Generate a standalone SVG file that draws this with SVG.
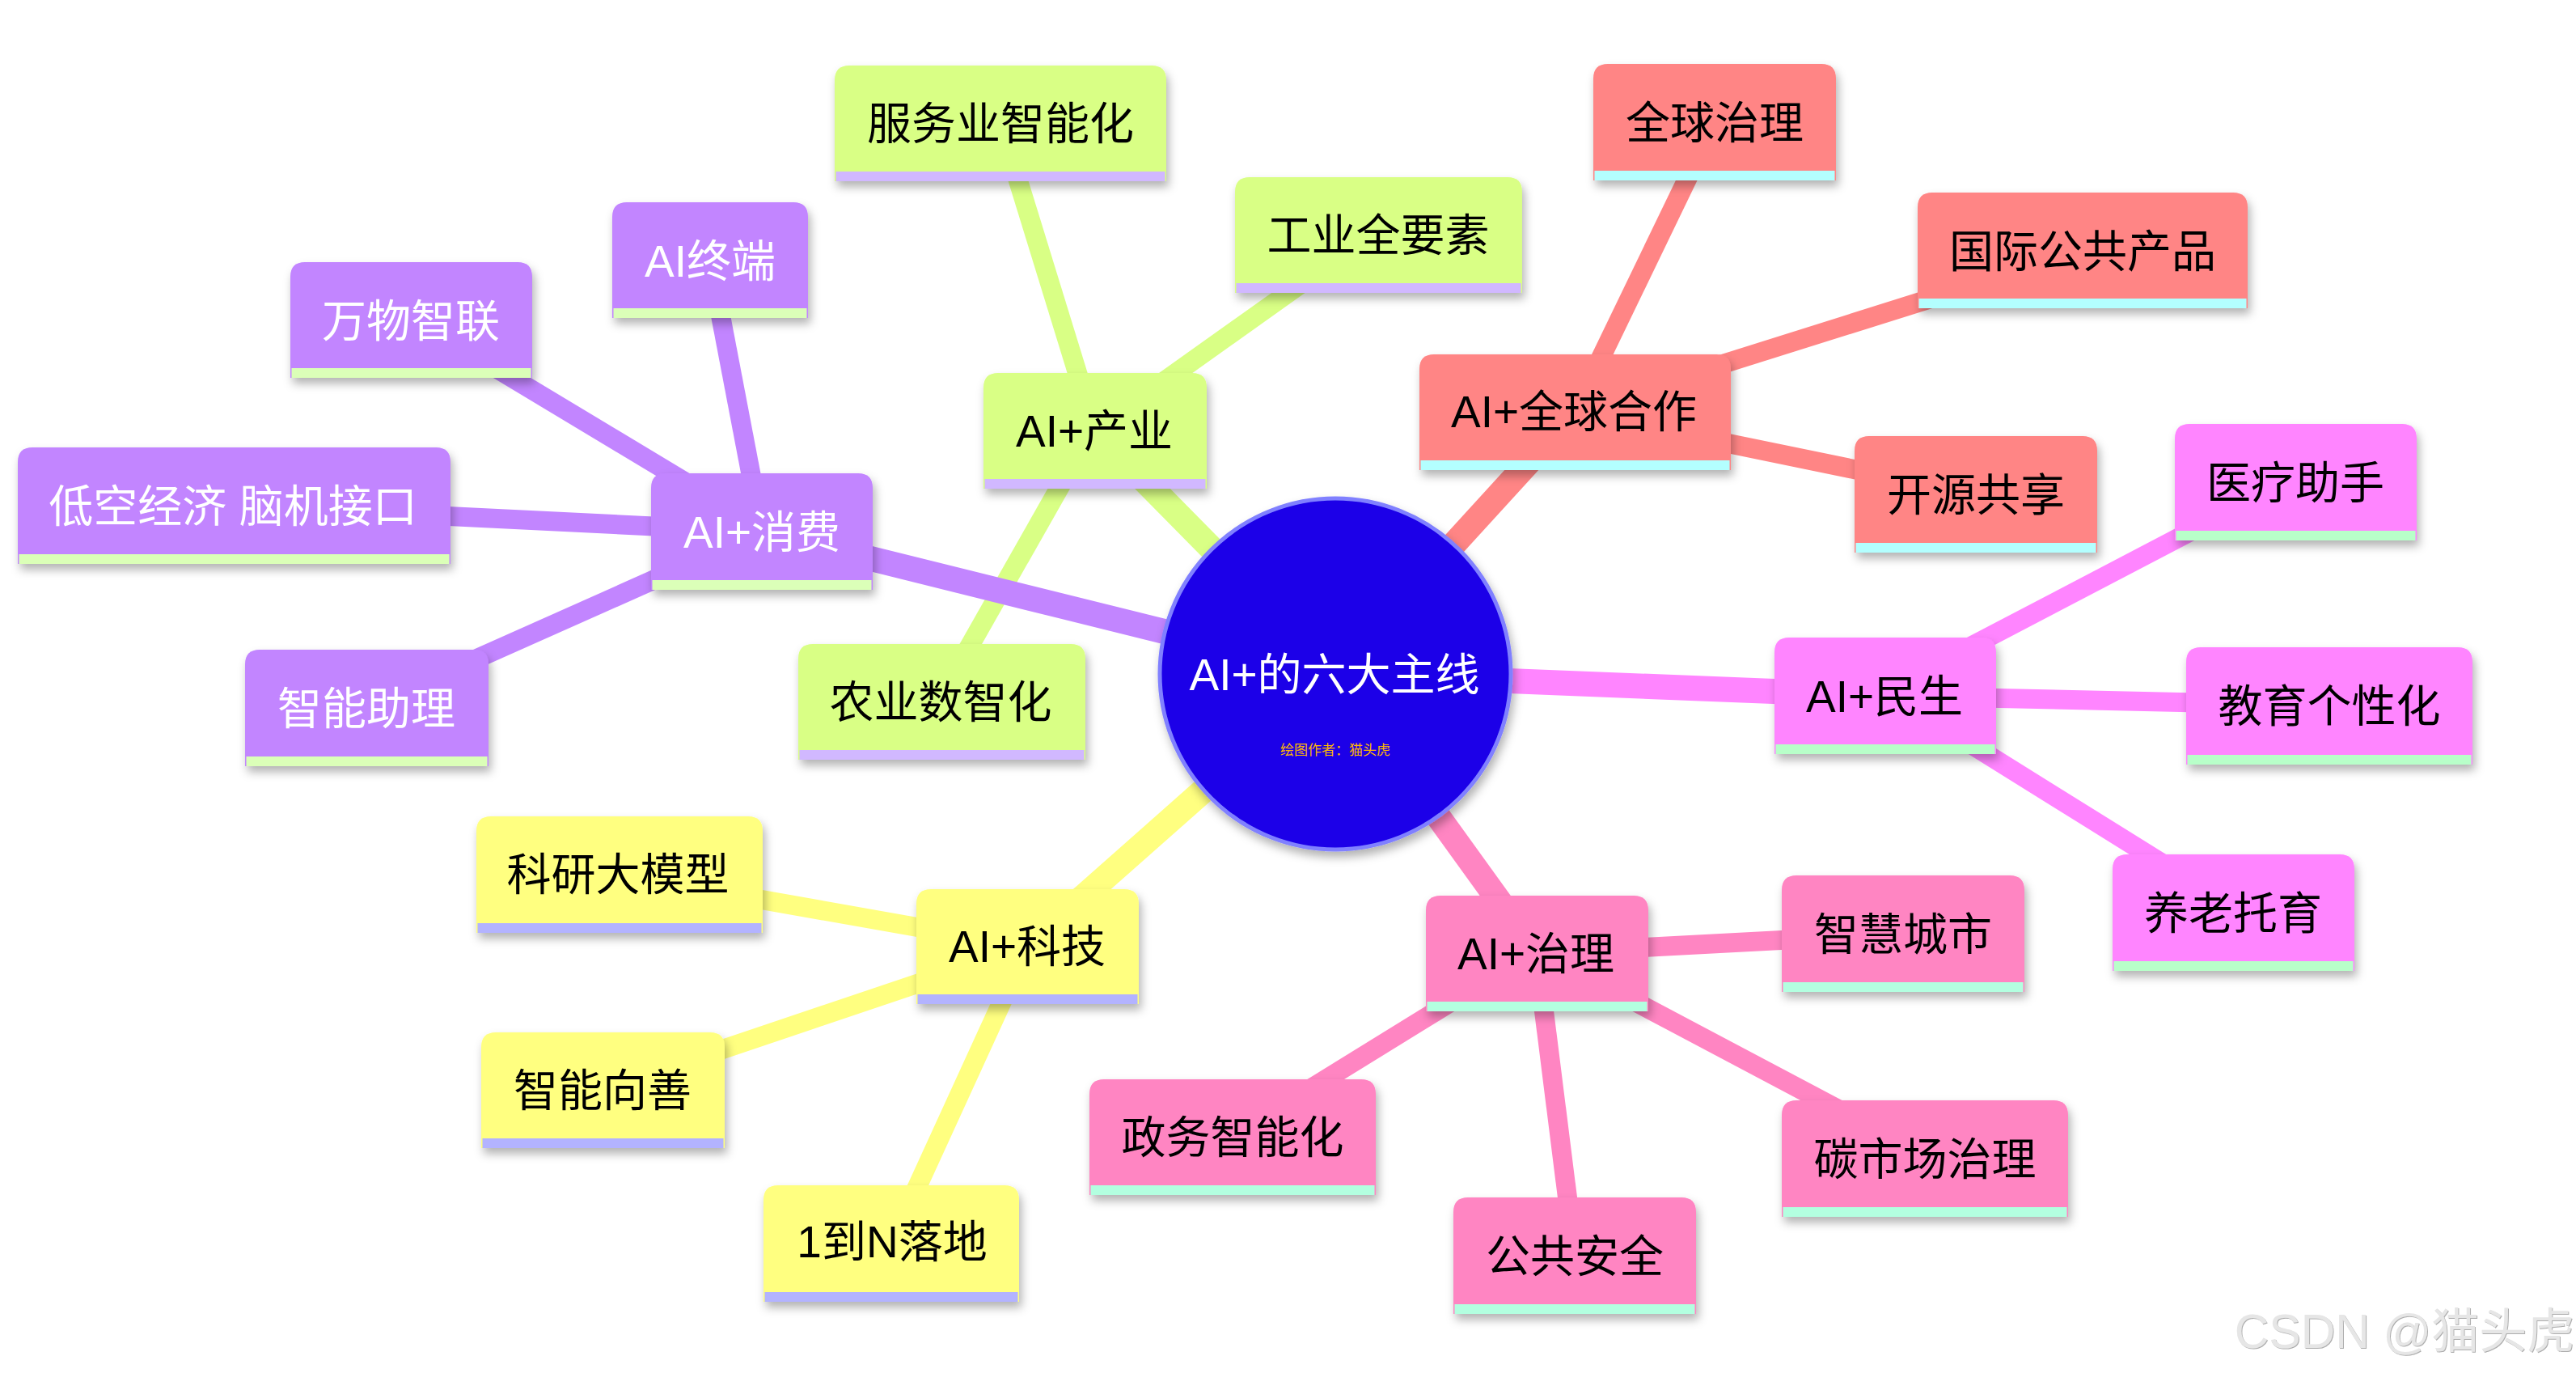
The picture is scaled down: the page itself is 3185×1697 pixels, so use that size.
<svg xmlns="http://www.w3.org/2000/svg" width="3185" height="1697" viewBox="0 0 3185 1697">
<style>
text{font-family:"Liberation Sans","Noto Sans CJK SC",sans-serif;font-size:55px;text-anchor:middle;fill:#000}
.w text,text.w{fill:#fff}
.b{filter:url(#sh)}
line{fill:none;stroke-width:24}
.m{stroke-width:31}
.pu{stroke:#c285ff}.gr{stroke:#d9ff85}.sa{stroke:#ff8585}.ma{stroke:#ff85ff}.pi{stroke:#ff85c2}.ye{stroke:#ffff80}
.fpu{fill:#c285ff}.fgr{fill:#d9ff85}.fsa{fill:#ff8585}.fma{fill:#ff85ff}.fpi{fill:#ff85c2}.fye{fill:#ffff80}
.bpu{fill:#dbffb8}.bgr{fill:#d1b8ff}.bsa{fill:#b3ffff}.bma{fill:#b8ffc9}.bpi{fill:#b3ffe0}.bye{fill:#b3b3ff}
</style>
<defs>
<filter id="sh" x="-15%" y="-15%" width="130%" height="135%"><feDropShadow dx="3" dy="7" stdDeviation="6" flood-color="#000" flood-opacity="0.3"/></filter>
<filter id="wm" x="-5%" y="-10%" width="110%" height="120%"><feDropShadow dx="1" dy="1" stdDeviation="0.6" flood-color="#999" flood-opacity="0.8"/></filter>
</defs>
<rect width="3185" height="1697" fill="#fff"/>
<g id="connectors">
<line class="gr m" x1="1354" y1="532" x2="1651" y2="833"/>
<line class="sa m" x1="1947" y1="509" x2="1651" y2="833"/>
<line class="ma m" x1="2331" y1="860" x2="1651" y2="833"/>
<line class="pi m" x1="1900" y1="1178" x2="1651" y2="833"/>
<line class="ye m" x1="1270" y1="1170" x2="1651" y2="833"/>
<line class="pu" x1="942" y1="657" x2="878" y2="322"/>
<line class="pu" x1="949" y1="657" x2="515" y2="396"/>
<line class="pu" x1="942" y1="657" x2="290" y2="625"/>
<line class="pu" x1="942" y1="657" x2="453" y2="875"/>
<line class="gr" x1="1354" y1="532" x2="1237" y2="152"/>
<line class="gr" x1="1354" y1="532" x2="1694" y2="290"/>
<line class="gr" x1="1350" y1="532" x2="1160" y2="867"/>
<line class="sa" x1="1947" y1="509" x2="2120" y2="151"/>
<line class="sa" x1="1942" y1="509" x2="2575" y2="310"/>
<line class="sa" x1="1947" y1="509" x2="2443" y2="611"/>
<line class="ma" x1="2320" y1="860" x2="2825" y2="596"/>
<line class="ma" x1="2331" y1="860" x2="2880" y2="872"/>
<line class="ma" x1="2341" y1="860" x2="2771" y2="1128"/>
<line class="pi" x1="1900" y1="1178" x2="2353" y2="1154"/>
<line class="pi" x1="1908" y1="1178" x2="2388" y2="1432"/>
<line class="pi" x1="1892" y1="1178" x2="1524" y2="1405"/>
<line class="pi" x1="1900" y1="1178" x2="1947" y2="1552"/>
<line class="ye" x1="1270" y1="1170" x2="766" y2="1081"/>
<line class="ye" x1="1270" y1="1170" x2="745" y2="1347"/>
<line class="ye" x1="1270" y1="1170" x2="1102" y2="1537"/>
<line class="pu m" x1="942" y1="657" x2="1651" y2="833"/>
</g>
<g id="root">
<circle cx="1651" cy="833" r="217" fill="#1a00e8" stroke="#8080ff" stroke-width="5" filter="url(#sh)"/>
<text class="w" x="1650" y="853">AI+的六大主线</text>
<text x="1651" y="933" style="font-size:17px;fill:#ffb800">绘图作者：猫头虎</text>
</g>
<g id="n-consume" class="w"><g class="b"><path class="fpu" d="M805 729V603Q805 585 823 585H1061Q1079 585 1079 603V729Z"/><rect class="bpu" x="806.5" y="717" width="271" height="12"/></g><text x="942" y="677">AI+消费</text></g>
<g id="n-terminal" class="w"><g class="b"><path class="fpu" d="M757 393V268Q757 250 775 250H981Q999 250 999 268V393Z"/><rect class="bpu" x="758.500" y="381" width="239" height="12"/></g><text x="878" y="342">AI终端</text></g>
<g id="n-iot" class="w"><g class="b"><path class="fpu" d="M359 467V342Q359 324 377 324H640Q658 324 658 342V467Z"/><rect class="bpu" x="360.500" y="455" width="296" height="12"/></g><text x="508" y="416">万物智联</text></g>
<g id="n-lowalt" class="w"><g class="b"><path class="fpu" d="M22 697V571Q22 553 40 553H539Q557 553 557 571V697Z"/><rect class="bpu" x="23.500" y="685" width="532" height="12"/></g><text x="288" y="645">低空经济 脑机接口</text></g>
<g id="n-assist" class="w"><g class="b"><path class="fpu" d="M303 947V821Q303 803 321 803H586Q604 803 604 821V947Z"/><rect class="bpu" x="304.500" y="935" width="298" height="12"/></g><text x="453" y="895">智能助理</text></g>
<g id="n-industry"><g class="b"><path class="fgr" d="M1216 604V479Q1216 461 1234 461H1474Q1492 461 1492 479V604Z"/><rect class="bgr" x="1217.500" y="592" width="273" height="12"/></g><text x="1353" y="552">AI+产业</text></g>
<g id="n-service"><g class="b"><path class="fgr" d="M1032 224V99Q1032 81 1050 81H1424Q1442 81 1442 99V224Z"/><rect class="bgr" x="1033.500" y="212" width="407" height="12"/></g><text x="1237" y="172">服务业智能化</text></g>
<g id="n-factor"><g class="b"><path class="fgr" d="M1527 362V237Q1527 219 1545 219H1864Q1882 219 1882 237V362Z"/><rect class="bgr" x="1528.500" y="350" width="352" height="12"/></g><text x="1704" y="310">工业全要素</text></g>
<g id="n-agri"><g class="b"><path class="fgr" d="M987 939V814Q987 796 1005 796H1324Q1342 796 1342 814V939Z"/><rect class="bgr" x="988.500" y="927" width="352" height="12"/></g><text x="1163" y="887">农业数智化</text></g>
<g id="n-global"><g class="b"><path class="fsa" d="M1755 581V456Q1755 438 1773 438H2122Q2140 438 2140 456V581Z"/><rect class="bsa" x="1756.500" y="569" width="382" height="12"/></g><text x="1946" y="528">AI+全球合作</text></g>
<g id="n-govern"><g class="b"><path class="fsa" d="M1970 223V97Q1970 79 1988 79H2252Q2270 79 2270 97V223Z"/><rect class="bsa" x="1971.500" y="211" width="297" height="12"/></g><text x="2120" y="171">全球治理</text></g>
<g id="n-public"><g class="b"><path class="fsa" d="M2371 381V256Q2371 238 2389 238H2761Q2779 238 2779 256V381Z"/><rect class="bsa" x="2372.500" y="369" width="405" height="12"/></g><text x="2575" y="330">国际公共产品</text></g>
<g id="n-open"><g class="b"><path class="fsa" d="M2293 683V557Q2293 539 2311 539H2575Q2593 539 2593 557V683Z"/><rect class="bsa" x="2294.500" y="671" width="297" height="12"/></g><text x="2443" y="631">开源共享</text></g>
<g id="n-life"><g class="b"><path class="fma" d="M2194 932V806Q2194 788 2212 788H2450Q2468 788 2468 806V932Z"/><rect class="bma" x="2195.500" y="920" width="271" height="12"/></g><text x="2330" y="880">AI+民生</text></g>
<g id="n-med"><g class="b"><path class="fma" d="M2689 668V542Q2689 524 2707 524H2970Q2988 524 2988 542V668Z"/><rect class="bma" x="2690.500" y="656" width="296" height="12"/></g><text x="2838" y="616">医疗助手</text></g>
<g id="n-edu"><g class="b"><path class="fma" d="M2703 945V818Q2703 800 2721 800H3039Q3057 800 3057 818V945Z"/><rect class="bma" x="2704.500" y="933" width="351" height="12"/></g><text x="2880" y="892">教育个性化</text></g>
<g id="n-care"><g class="b"><path class="fma" d="M2612 1200V1074Q2612 1056 2630 1056H2893Q2911 1056 2911 1074V1200Z"/><rect class="bma" x="2613.500" y="1188" width="296" height="12"/></g><text x="2761" y="1148">养老托育</text></g>
<g id="n-gov"><g class="b"><path class="fpi" d="M1763 1250V1125Q1763 1107 1781 1107H2020Q2038 1107 2038 1125V1250Z"/><rect class="bpi" x="1764.500" y="1238" width="272" height="12"/></g><text x="1899" y="1198">AI+治理</text></g>
<g id="n-city"><g class="b"><path class="fpi" d="M2203 1226V1100Q2203 1082 2221 1082H2485Q2503 1082 2503 1100V1226Z"/><rect class="bpi" x="2204.500" y="1214" width="297" height="12"/></g><text x="2353" y="1174">智慧城市</text></g>
<g id="n-carbon"><g class="b"><path class="fpi" d="M2203 1504V1378Q2203 1360 2221 1360H2539Q2557 1360 2557 1378V1504Z"/><rect class="bpi" x="2204.500" y="1492" width="351" height="12"/></g><text x="2380" y="1452">碳市场治理</text></g>
<g id="n-egov"><g class="b"><path class="fpi" d="M1347 1477V1352Q1347 1334 1365 1334H1683Q1701 1334 1701 1352V1477Z"/><rect class="bpi" x="1348.500" y="1465" width="351" height="12"/></g><text x="1524" y="1425">政务智能化</text></g>
<g id="n-safety"><g class="b"><path class="fpi" d="M1797 1624V1498Q1797 1480 1815 1480H2079Q2097 1480 2097 1498V1624Z"/><rect class="bpi" x="1798.500" y="1612" width="297" height="12"/></g><text x="1947" y="1572">公共安全</text></g>
<g id="n-tech"><g class="b"><path class="fye" d="M1133 1241V1117Q1133 1099 1151 1099H1390Q1408 1099 1408 1117V1241Z"/><rect class="bye" x="1134.500" y="1229" width="272" height="12"/></g><text x="1270" y="1189">AI+科技</text></g>
<g id="n-research"><g class="b"><path class="fye" d="M589 1153V1027Q589 1009 607 1009H925Q943 1009 943 1027V1153Z"/><rect class="bye" x="590.500" y="1141" width="351" height="12"/></g><text x="764" y="1100">科研大模型</text></g>
<g id="n-good"><g class="b"><path class="fye" d="M595 1419V1294Q595 1276 613 1276H878Q896 1276 896 1294V1419Z"/><rect class="bye" x="596.500" y="1407" width="298" height="12"/></g><text x="745" y="1367">智能向善</text></g>
<g id="n-landing"><g class="b"><path class="fye" d="M944 1609V1483Q944 1465 962 1465H1242Q1260 1465 1260 1483V1609Z"/><rect class="bye" x="945.500" y="1597" width="313" height="12"/></g><text x="1103" y="1554">1到N落地</text></g>
<text x="2973" y="1666" filter="url(#wm)" style="font-size:59px;fill:#e6e6e6">CSDN @猫头虎</text>
</svg>
